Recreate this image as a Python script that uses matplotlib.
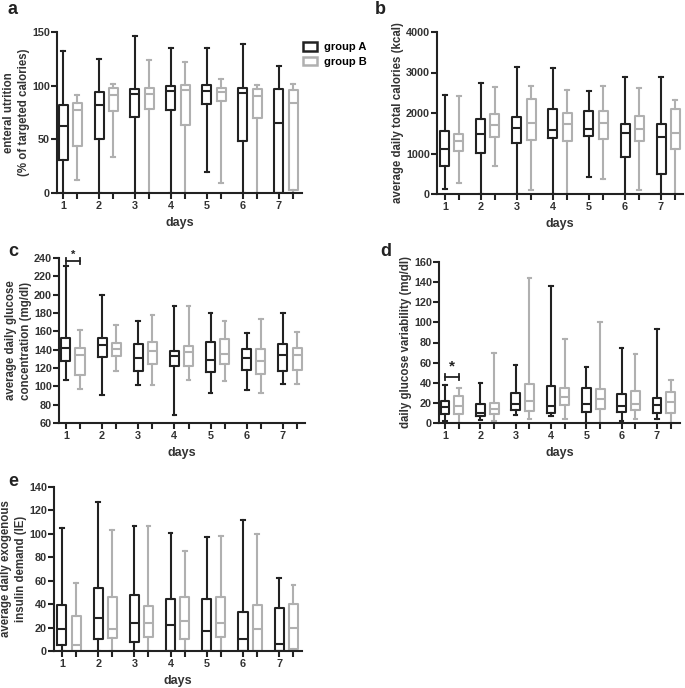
import matplotlib
matplotlib.use("Agg")
import matplotlib.pyplot as plt
from matplotlib.patches import Rectangle

plt.rcParams['font.family'] = ['Liberation Sans', 'DejaVu Sans']
plt.rcParams['font.weight'] = 'bold'

days = [1, 2, 3, 4, 5, 6, 7]
day_labels = ["1", "2", "3", "4", "5", "6", "7"]
group_names = ["group A", "group B"]

# each entry: [whisker low, q1, median, q3, whisker high]
a_groupA = [[0, 31, 62, 82, 132], [0, 50, 82, 94, 125], [0, 71, 92, 97, 146], [0, 77, 95, 100, 135],
            [20, 83, 95, 101, 135], [0, 48, 93, 98, 139], [0, 0, 65, 97, 118]]
a_groupB = [[12, 44, 77, 84, 91], [34, 76, 91, 98, 102], [0, 78, 92, 98, 124], [0, 63, 96, 101, 122],
            [9, 86, 94, 98, 106], [0, 70, 90, 97, 101], [0, 3, 84, 96, 102]]

b_groupA = [[130, 680, 1100, 1560, 2440], [0, 1020, 1490, 1840, 2750], [0, 1270, 1640, 1910, 3140],
            [0, 1390, 1580, 2110, 3100], [420, 1430, 1610, 2060, 2540], [0, 920, 1510, 1730, 2880],
            [0, 500, 1410, 1740, 2880]]
b_groupB = [[270, 1070, 1320, 1480, 2410], [700, 1400, 1700, 1980, 2640], [110, 1340, 1760, 2340, 2660],
            [0, 1310, 1720, 1990, 2560], [370, 1370, 1750, 2040, 2660], [100, 1310, 1610, 1930, 2610],
            [0, 1120, 1500, 2100, 2310]]

c_groupA = [[107, 128, 142, 153, 231], [91, 132, 145, 153, 200], [102, 117, 131, 146, 171],
            [69, 122, 133, 139, 188], [93, 116, 129, 148, 180], [96, 118, 131, 141, 158],
            [103, 117, 134, 146, 180]]
c_groupB = [[97, 112, 134, 142, 161], [117, 133, 141, 147, 167], [102, 124, 139, 148, 178],
            [107, 122, 137, 144, 188], [106, 124, 135, 152, 171], [93, 113, 128, 141, 174],
            [103, 118, 134, 142, 159]]

d_groupA = [[2, 9, 16, 22, 38], [3, 7, 10, 19, 40], [8, 13, 19, 30, 58], [7, 10, 17, 37, 136],
            [0, 11, 19, 35, 56], [2, 11, 17, 29, 75], [4, 10, 18, 25, 93]]
d_groupB = [[0, 9, 17, 27, 35], [2, 9, 14, 20, 70], [4, 12, 22, 39, 144], [4, 18, 26, 35, 83],
            [0, 14, 24, 34, 100], [4, 13, 19, 32, 69], [0, 10, 21, 31, 43]]

e_groupA = [[0, 5, 19, 39, 105], [0, 10, 28, 54, 127], [0, 8, 24, 48, 107], [0, 0, 22, 44, 101],
            [0, 0, 17, 44, 97], [0, 0, 10, 33, 112], [0, 0, 6, 37, 62]]
e_groupB = [[0, 0, 5, 30, 58], [0, 11, 19, 46, 103], [0, 12, 24, 38, 107], [0, 10, 26, 46, 85],
            [0, 12, 24, 46, 98], [0, 0, 19, 39, 100], [0, 2, 20, 40, 56]]

ylabels = {
    'a': "enteral utrition\n(% of targeted calories)",
    'b': "average daily total calories (kcal)",
    'c': "average daily glucose\nconcentration (mg/dl)",
    'd': "daily glucose variability (mg/dl)",
    'e': "average daily exogenous\ninsulin demand (IE)",
}
yticks = {
    'a': [0, 50, 100, 150],
    'b': [0, 1000, 2000, 3000, 4000],
    'c': list(range(60, 241, 20)),
    'd': list(range(0, 161, 20)),
    'e': list(range(0, 141, 20)),
}

COL_A = '#222222'
COL_B = '#b0b0b0'
OFFSET = 0.39
WIDTH = 0.25

W, H = 685, 688
fig = plt.figure(figsize=(W / 100, H / 100), dpi=100)


def rect(l, r, t, b):
    return [l / W, 1 - b / H, (r - l) / W, (b - t) / H]


def stats(rows):
    return [dict(whislo=r[0], q1=r[1], med=r[2], q3=r[3], whishi=r[4], fliers=[]) for r in rows]


def draw(ax, A, B, key, xlim):
    for data, col, off in ((A, COL_A, 0.0), (B, COL_B, OFFSET)):
        lp = dict(color=col, linewidth=1.5)
        ax.bxp(stats(data), positions=[d + off for d in days], widths=WIDTH,
               showfliers=False, boxprops=lp, whiskerprops=lp, medianprops=lp,
               capprops=lp, capwidths=0.1, manage_ticks=False)
    ax.set_xlim(*xlim)
    yt = yticks[key]
    ax.set_ylim(yt[0], yt[-1])
    ax.set_yticks(yt)
    ax.set_xticks(days)
    ax.set_xticklabels(day_labels)
    ax.set_xticks([d + OFFSET for d in days], minor=True)
    for s in ('top', 'right'):
        ax.spines[s].set_visible(False)
    for s in ('left', 'bottom'):
        ax.spines[s].set_linewidth(1.5)
        ax.spines[s].set_color('#222222')
    ax.tick_params(which='both', direction='out', length=4, width=1.5, color='#222222',
                   labelsize=7.8, pad=2)
    ax.tick_params(axis='y', pad=1)
    for lab in ax.get_xticklabels() + ax.get_yticklabels():
        lab.set_fontweight('bold')
        lab.set_color('#333333')
    ax.set_xlabel("days", fontsize=9, fontweight='bold', labelpad=4, color='#333333')
    ax.set_ylabel(ylabels[key], fontsize=8.3, fontweight='bold', color='#333333',
                  labelpad=1.5, linespacing=1.3)


ax_a = fig.add_axes(rect(57, 302, 32, 193))
draw(ax_a, a_groupA, a_groupB, 'a', (0.833, 7.64))
ax_b = fig.add_axes(rect(437, 683, 32, 194))
draw(ax_b, b_groupA, b_groupB, 'b', (0.78, 7.61))
ax_c = fig.add_axes(rect(59, 305, 258, 423))
draw(ax_c, c_groupA, c_groupB, 'c', (0.81, 7.61))
ax_d = fig.add_axes(rect(439, 680, 262, 423))
draw(ax_d, d_groupA, d_groupB, 'd', (0.83, 7.65))
ax_e = fig.add_axes(rect(54, 302, 487, 651))
draw(ax_e, e_groupA, e_groupB, 'e', (0.78, 7.63))

# significance brackets
def bracket(ax, y, h, star_y, fs):
    ax.plot([1, 1 + OFFSET], [y, y], color='#222222', lw=1.3, clip_on=False)
    for x in (1, 1 + OFFSET):
        ax.plot([x, x], [y - h, y + h], color='#222222', lw=1.3, clip_on=False)
    ax.text(1 + OFFSET / 2, star_y, "*", ha='center', va='center', fontsize=fs,
            fontweight='bold', color='#222222', clip_on=False)

bracket(ax_c, 237, 3, 243, 8)
bracket(ax_d, 46, 3, 56, 11)

# panel letters
for t, x, y in (("a", 8, 10), ("b", 375, 10), ("c", 8, 252), ("d", 380, 252), ("e", 8, 482)):
    fig.text(x / W, 1 - y / H, t, fontsize=13, fontweight='bold', va='center', ha='left',
             color='#222222')

# legend
handles = [Rectangle((0, 0), 1, 1, facecolor='none', edgecolor=COL_A, linewidth=1.8),
           Rectangle((0, 0), 1, 1, facecolor='none', edgecolor=COL_B, linewidth=1.8)]
fig.legend(handles, group_names, loc='upper left', bbox_to_anchor=(293 / W, 1 - 32 / H),
           frameon=False, handlelength=1.3, handleheight=0.8,
           handletextpad=0.6, labelspacing=0.4, prop={'weight': 'bold', 'size': 8})

fig.savefig("out.png", dpi=100)
